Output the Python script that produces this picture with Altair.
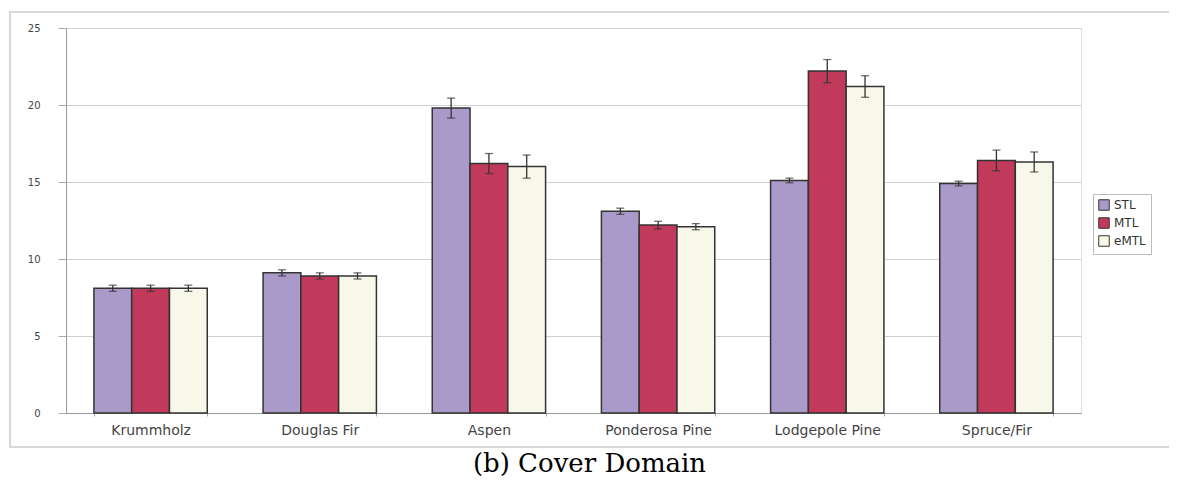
import altair as alt
import pandas as pd

categories = ["Krummholz", "Douglas Fir", "Aspen", "Ponderosa Pine", "Lodgepole Pine", "Spruce/Fir"]
series = ["STL", "MTL", "eMTL"]
stl = [8.1, 9.1, 19.8, 13.1, 15.1, 14.9]
mtl = [8.1, 8.9, 16.2, 12.2, 22.2, 16.4]
emtl = [8.1, 8.9, 16.0, 12.1, 21.2, 16.3]
stl_err = [0.2, 0.2, 0.65, 0.2, 0.15, 0.15]
mtl_err = [0.2, 0.2, 0.65, 0.25, 0.75, 0.67]
emtl_err = [0.2, 0.2, 0.75, 0.2, 0.7, 0.65]
colors = ["#A99AC9", "#C13A5B", "#F8F8EA"]
y_ticks = [0, 5, 10, 15, 20, 25]

rows = []
for s, vals, errs in zip(series, [stl, mtl, emtl], [stl_err, mtl_err, emtl_err]):
    for c, v, e in zip(categories, vals, errs):
        rows.append({"cat": c, "series": s, "value": v, "lo": v - e, "hi": v + e})
df = pd.DataFrame(rows)

W, H = 1015, 385

x = alt.X("cat:N", sort=categories, title=None,
          scale=alt.Scale(paddingInner=0.33, paddingOuter=0.165),
          axis=alt.Axis(labelAngle=0, labelFont="DejaVu Sans", labelFontSize=14,
                        labelColor="#444", labelPadding=7, domainColor="#999",
                        tickColor="#aaa", tickSize=3, tickBand="extent", grid=False))
xo = alt.XOffset("series:N", sort=series, scale=alt.Scale(domain=series, paddingInner=0, paddingOuter=0))
y = alt.Y("value:Q", title=None,
          scale=alt.Scale(domain=[0, 25], nice=False),
          axis=alt.Axis(values=y_ticks, labelFont="DejaVu Sans", labelFontSize=10,
                        labelColor="#444", labelPadding=18, tickSize=8, tickColor="#aaa",
                        domainColor="#999", gridColor="#d0d0d0"))

bars = alt.Chart(df).mark_bar(stroke="#333", strokeWidth=1.5).encode(
    x=x, xOffset=xo, y=y,
    color=alt.Color("series:N", sort=series,
                    scale=alt.Scale(domain=series, range=colors),
                    legend=alt.Legend(title=None, orient="none", legendX=1027, legendY=166,
                                      symbolType="square", symbolSize=110, symbolStrokeColor="#333",
                                      symbolStrokeWidth=1, labelFont="DejaVu Sans",
                                      labelFontSize=12, labelColor="#333", rowPadding=2,
                                      strokeColor="#bbb", padding=5, symbolOffset=0))
)

rules = alt.Chart(df).mark_rule(color="#333", strokeWidth=1.3).encode(
    x=alt.X("cat:N", sort=categories), xOffset=xo,
    y=alt.Y("lo:Q"), y2="hi:Q"
)
cap_lo = alt.Chart(df).mark_tick(color="#333", thickness=1.3, size=8).encode(
    x=alt.X("cat:N", sort=categories), xOffset=xo, y=alt.Y("lo:Q")
)
cap_hi = alt.Chart(df).mark_tick(color="#333", thickness=1.3, size=8).encode(
    x=alt.X("cat:N", sort=categories), xOffset=xo, y=alt.Y("hi:Q")
)

frame = alt.Chart(alt.Data(values=[{}])).mark_rect(fill=None, stroke="#d8d8d8", strokeWidth=2).encode(
    x=alt.value(-56), x2=alt.value(1110), y=alt.value(-16), y2=alt.value(419)
)

chart = alt.layer(frame, bars, rules, cap_lo, cap_hi).properties(
    width=W, height=H,
    title=alt.TitleParams("(b) Cover Domain", orient="bottom", anchor="middle",
                          font="DejaVu Serif", fontSize=26, fontWeight="normal",
                          color="#000", offset=3, dx=16),
    autosize=alt.AutoSizeParams(type="none"),
    padding={"left": 58, "top": 20, "right": 88, "bottom": 70},
).configure_view(stroke="#999", strokeWidth=1).configure(background="white")

chart.save("out.html", embed_options={"renderer": "svg", "actions": False})
